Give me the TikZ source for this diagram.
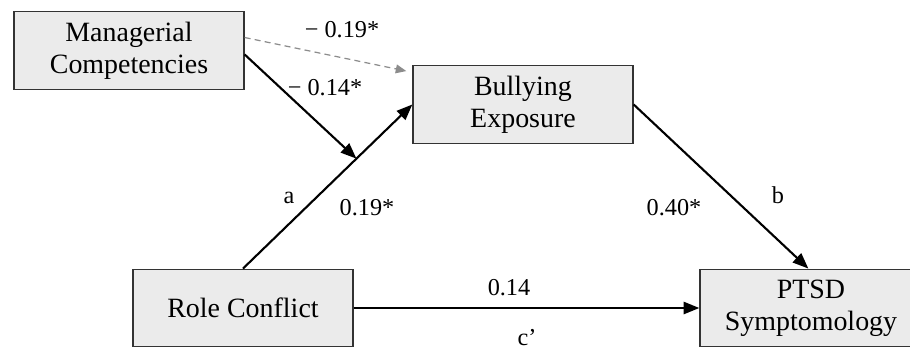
\documentclass[tikz,border=0pt]{standalone}
\usepackage{fontspec}
\setmainfont{Liberation Serif}
\usetikzlibrary{arrows.meta,calc}
\definecolor{medBoxFill}{HTML}{EBEBEB}
\definecolor{medEdge}{HTML}{333333}
\definecolor{medDash}{HTML}{8C8C8C}

\begin{document}
\begin{tikzpicture}[x=0.02cm,y=-0.02cm,
    var/.style={draw=medEdge,line width=0.8pt,fill=medBoxFill,
                minimum height=1.55cm,inner sep=2pt,align=center,
                font=\fontsize{15.9}{18.2}\selectfont},
    effect/.style={line width=1.2pt,-{Triangle[length=9pt,width=7pt]}},
    weak/.style={draw=medDash,line width=0.7pt,dash pattern=on 3.4pt off 2.4pt,
                 -{Triangle[length=6pt,width=5pt]}},
    coef/.style={anchor=base,inner sep=0pt,font=\fontsize{13.8}{16}\selectfont}]
  \useasboundingbox (0,0) rectangle (910,349);
  \node[var,minimum width=4.6cm] (mc) at (129,50.5) {Managerial\\Competencies};
  \node[var,minimum width=4.4cm] (be) at (523,104.5) {Bullying\\Exposure};
  \node[var,minimum width=4.4cm] (rc) at (243,308) {Role Conflict};
  \node[var,minimum width=4.44cm] (pt) at (811,308) {PTSD\\Symptomology};

  \coordinate (mod) at ($(rc.north)!0.67!(be.west)$);
  \coordinate (mcdash) at ($(mc.east)+(0,-13)$);
  \coordinate (mcsolid) at ($(mc.east)+(0,4)$);
  \coordinate (dashend) at ($(be.north west)+(-6,6)$);

  \draw[effect] (rc.north) -- (be.west);
  \draw[effect] (be.east) -- ([xshift=-1.5pt]pt.north);
  \draw[effect] (rc.east) -- (pt.west);
  \draw[effect] (mcsolid) -- (mod);
  \draw[weak] (mcdash) -- (dashend);

  \node[coef] (l1) at (342,37) {− 0.19*};
  \node[coef] (l2) at (325,95) {− 0.14*};
  \node[coef] (la) at (289,203) {a};
  \node[coef] (l3) at (367,215) {0.19*};
  \node[coef] (l4) at (674,215) {0.40*};
  \node[coef] (lb) at (778,203) {b};
  \node[coef] (l5) at (509,295) {0.14};
  \node[coef] (lc) at (527,345) {c’};
\end{tikzpicture}
\end{document}
